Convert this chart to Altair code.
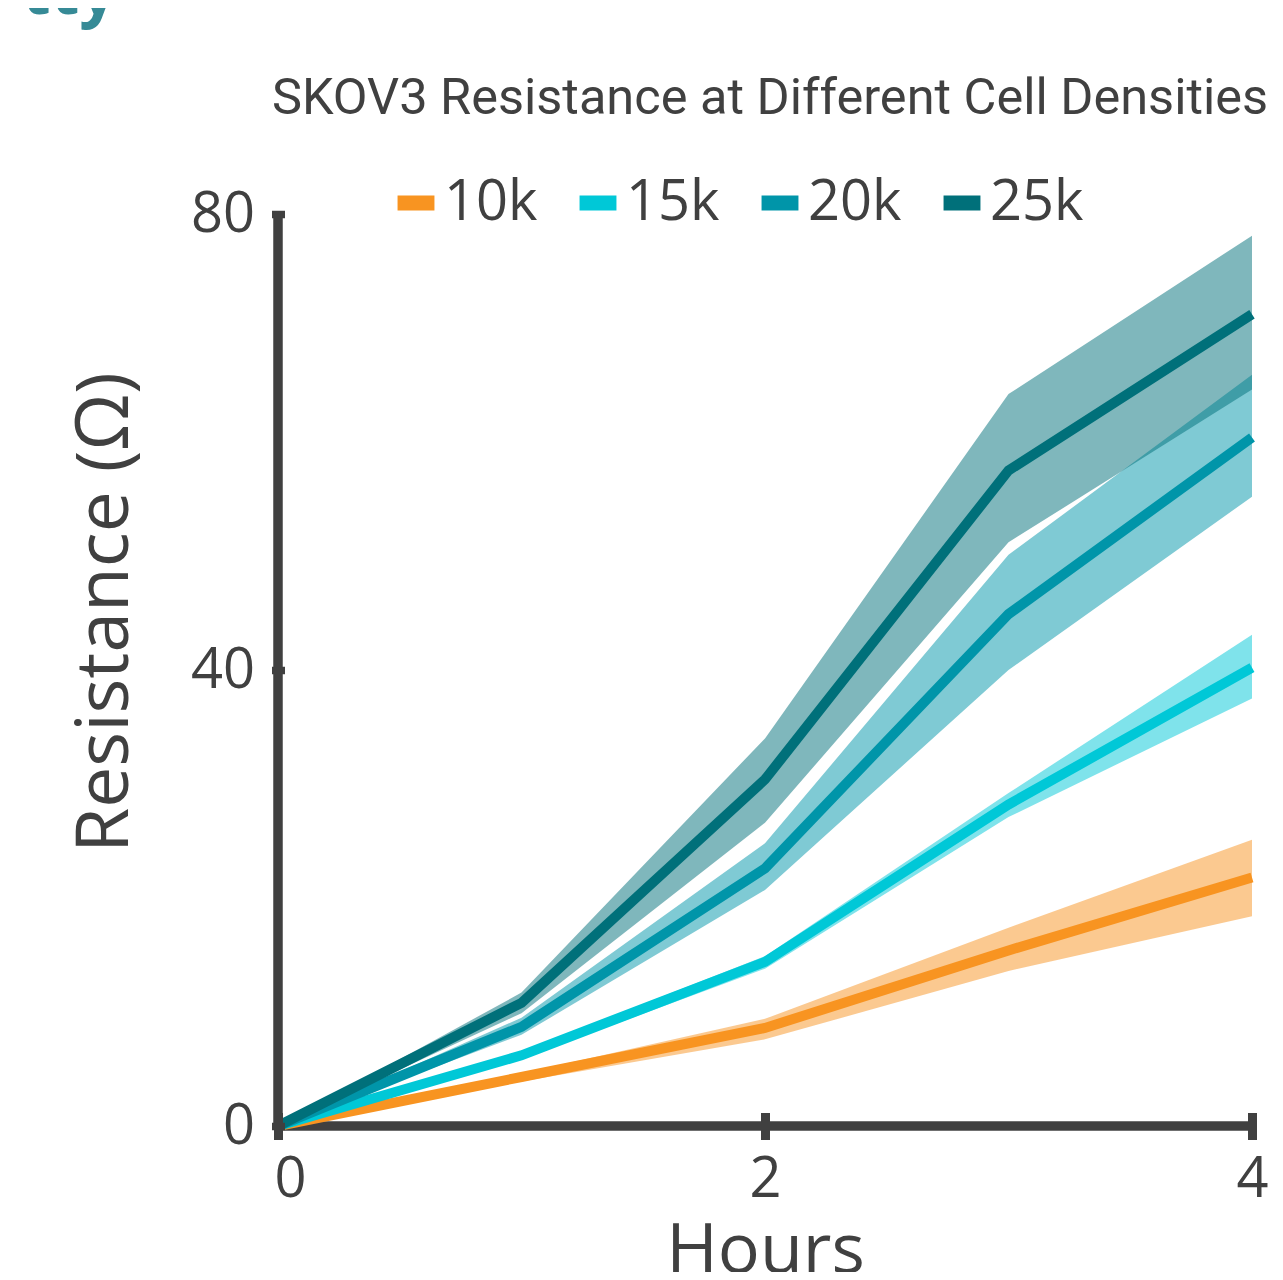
import altair as alt
import pandas as pd

hours = [0, 1, 2, 3, 4]
densities = ["10k", "15k", "20k", "25k"]
colors = ["#F89421", "#00C8D7", "#0095A9", "#00707A"]

mean_10k = [0, 4.3, 8.6, 15.4, 21.8]
low_10k = [0, 3.9, 7.6, 13.6, 18.4]
high_10k = [0, 4.6, 9.4, 17.4, 25.1]

mean_15k = [0, 6.2, 14.4, 28.2, 40.2]
low_15k = [0, 5.9, 13.8, 27.1, 37.5]
high_15k = [0, 6.5, 14.9, 29.2, 43.1]

mean_20k = [0, 8.7, 22.6, 44.9, 60.4]
low_20k = [0, 8.0, 20.7, 40.0, 55.2]
high_20k = [0, 9.5, 24.8, 50.1, 65.9]

mean_25k = [0, 10.8, 30.4, 57.5, 71.2]
low_25k = [0, 9.9, 26.6, 51.2, 64.6]
high_25k = [0, 11.7, 34.0, 64.2, 78.1]

title_text = "SKOV3 Resistance at Different Cell Densities"
corner_text = "tty"

rows = []
series = {
    "10k": (mean_10k, low_10k, high_10k),
    "15k": (mean_15k, low_15k, high_15k),
    "20k": (mean_20k, low_20k, high_20k),
    "25k": (mean_25k, low_25k, high_25k),
}
for d in densities:
    m, lo, hi = series[d]
    for h, a, b, c in zip(hours, m, lo, hi):
        rows.append({"Hours": h, "Density": d, "mean": a, "low": b, "high": c})
df = pd.DataFrame(rows)

TXT = "#404040"
FONT = "Open Sans"

xscale = alt.Scale(domain=[0, 4], nice=False, zero=False)
yscale = alt.Scale(domain=[0, 80], nice=False)
cscale = alt.Scale(domain=densities, range=colors)

x_axis = alt.Axis(
    values=[0, 2, 4], format="d", domain=False, grid=False, tickSize=27, tickWidth=9,
    tickColor=TXT, offset=-13.5, labelFontSize=56, labelFont=FONT,
    labelColor=TXT, labelPadding=13, labelFlush=False,
    labelOffset={"expr": "datum.value == 0 ? 12 : 0"},
    title="Hours", titleFontSize=70, titleFont=FONT, titleColor=TXT,
    titleFontWeight="normal", titleBaseline="alphabetic", titleY=159.5, zindex=1,
)
y_axis = alt.Axis(
    values=[0, 40, 80], format="d", domain=False, grid=False, tickSize=13, tickWidth=7.5,
    tickColor=TXT, offset=-6.5, labelFontSize=56, labelFont=FONT,
    labelColor=TXT, labelPadding=17,
    title="Resistance (Ω)", titleFontSize=73, titleFont=FONT, titleColor=TXT,
    titleFontWeight="normal", titleAngle=270, titleBaseline="alphabetic",
    titleAlign="center", titleX=-157, titleY=398, zindex=1,
)

base = alt.Chart(df)

bands = base.mark_area(opacity=0.5).encode(
    x=alt.X("Hours:Q", scale=xscale, axis=x_axis),
    y=alt.Y("low:Q", scale=yscale, axis=y_axis),
    y2="high:Q",
    color=alt.Color(
        "Density:N", scale=cscale,
        legend=alt.Legend(
            title=None, orient="none", direction="horizontal",
            legendX=110, legendY=-39, padding=0,
            symbolType="M-1.23,-0.5H1.23V0.5H-1.23Z", symbolSize=900,
            symbolOpacity=1, symbolStrokeWidth=0,
            labelFontSize=56, labelFont=FONT, labelColor=TXT,
            labelOffset=0, columnPadding=32,
        ),
    ),
    detail="Density:N",
)

lines = base.mark_line(strokeWidth=10, strokeCap="butt").encode(
    x=alt.X("Hours:Q", scale=xscale),
    y=alt.Y("mean:Q", scale=yscale),
    color=alt.Color("Density:N", scale=cscale),
)

axis_df = pd.DataFrame({"x0": [0], "x1": [4], "y0": [0], "y1": [80]})
x_line = alt.Chart(axis_df).mark_rule(color=TXT, strokeWidth=9.5).encode(
    x=alt.X("x0:Q", scale=xscale), x2="x1:Q", y=alt.Y("y0:Q", scale=yscale)
)
y_line = alt.Chart(axis_df).mark_rule(color=TXT, strokeWidth=9.5).encode(
    x=alt.X("x0:Q", scale=xscale), y=alt.Y("y0:Q", scale=yscale), y2="y1:Q"
)

title_mark = alt.Chart(pd.DataFrame({"t": [title_text]})).mark_text(
    font="Roboto", fontSize=50.5, color=TXT,
    align="center", baseline="alphabetic",
).encode(text="t:N", x=alt.value(492), y=alt.value(-100))

corner_mark = alt.Chart(pd.DataFrame({"t": [corner_text]})).mark_text(
    font=FONT, fontSize=66, fontWeight="bold", color="#368A96",
    align="left", baseline="alphabetic",
).encode(text="t:N", x=alt.value(-256), y=alt.value(-200))

chart = alt.layer(x_line, y_line, bands, lines, title_mark, corner_mark).properties(
    width=974, height=912,
    autosize=alt.AutoSizeParams(type="none"),
    padding={"left": 270, "top": 206, "right": 23, "bottom": 146},
    background="white",
).configure_view(stroke=None)

chart.save("out.html", embed_options={"renderer": "svg", "actions": False})
